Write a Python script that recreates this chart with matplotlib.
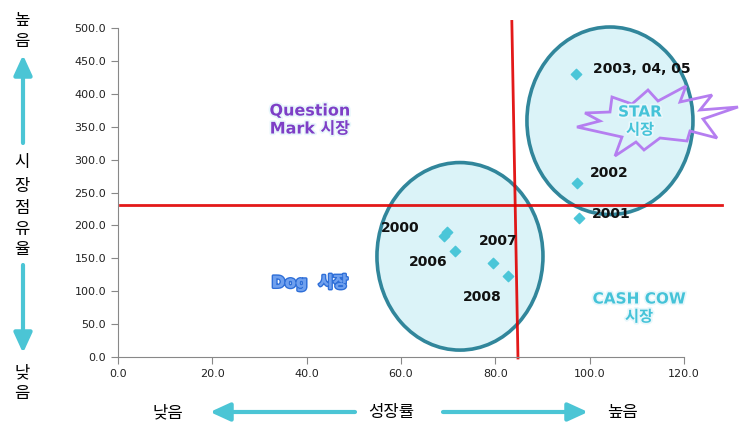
import numpy as np
import matplotlib.pyplot as plt
from matplotlib.patches import Ellipse, Polygon
import matplotlib.patheffects as pe

# market growth (x) vs market share (y)
growth = [69.1, 69.7, 97.7, 97.3, 97.1, 71.4, 79.5, 82.7]
share = [184.0, 190.0, 211.0, 264.0, 430.0, 160.5, 142.5, 123.0]

# point labels: text, x, y (data coords of label)
labels = ['2000', '2001', '2002', '2003, 04, 05', '2006', '2007', '2008']
label_x = [55.8, 100.5, 100.1, 100.7, 61.7, 76.5, 73.1]
label_y = [196, 217, 279, 438, 144, 177, 91]

xticks = [0, 20, 40, 60, 80, 100, 120]
yticks = [0, 50, 100, 150, 200, 250, 300, 350, 400, 450, 500]

plt.rcParams['font.family'] = ['DejaVu Sans', 'Noto Sans CJK KR']

fig = plt.figure(figsize=(7.4, 4.33), dpi=100)
W, H = 740, 433
ax = fig.add_axes([118 / W, 1 - 357 / H, (684 - 118) / W, (357 - 28) / H])
ax.set_xlim(0, 120)
ax.set_ylim(0, 500)
ax.set_xticks(xticks)
ax.set_yticks(yticks)
ax.set_xticklabels(['%.1f' % v for v in xticks])
ax.set_yticklabels(['%.1f' % v for v in yticks])
ax.tick_params(labelsize=8, colors='#222222', length=5, color='#888888')
for s in ['top', 'right']:
    ax.spines[s].set_visible(False)
for s in ['left', 'bottom']:
    ax.spines[s].set_color('#888888')

# ellipses around the groups
for cx, cy in [(72.5, 153), (104.3, 359)]:
    e = Ellipse((cx, cy), 35.2, 285, facecolor='#dbf3f8', edgecolor='#31869b',
                lw=2.6, zorder=1, clip_on=False)
    ax.add_patch(e)

# red quadrant lines
ax.plot([0.4, 128], [230.3, 230.3], color='#e00000', lw=2, zorder=2, clip_on=False, alpha=0.9)
ax.plot([83.5, 84.8], [510, -1.5], color='#e00000', lw=2, zorder=2, clip_on=False, alpha=0.9)

ax.scatter(growth, share, marker='D', s=28, color='#4bc6d8', zorder=4)

for t, lx, ly in zip(labels, label_x, label_y):
    ax.text(lx, ly, t, fontsize=10, fontweight='bold', color='#111111',
            ha='left', va='center', zorder=5)

# starburst outline (figure pixels)
star = np.array([(585, 113), (610, 112), (612, 97), (632, 104), (648, 90), (658, 101),
                 (686, 86), (680, 102), (712, 95), (700, 110), (738, 107), (703, 119),
                 (717, 138), (690, 131), (687, 141), (660, 138), (644, 150), (636, 142),
                 (615, 156), (622, 137), (577, 127), (600, 121)])
fig.patches.append(Polygon(np.column_stack([star[:, 0] / W, 1 - star[:, 1] / H]),
                           closed=True, fill=False, edgecolor='#b57ef0', lw=2,
                           transform=fig.transFigure, zorder=3))

glow = [pe.withStroke(linewidth=2.5, foreground='#e8f7fb')]
fig.text(310 / W, 1 - 120 / H, 'Question\nMark 시장', ha='center', va='center',
         fontsize=11.5, fontweight='bold', color='#7e3fc6', linespacing=1.25,
         path_effects=glow)
fig.text(310 / W, 1 - 282 / H, 'Dog  시장', ha='center', va='center',
         fontsize=11.5, fontweight='bold', color='#6fa0ee',
         path_effects=[pe.withStroke(linewidth=2.2, foreground='#2f6fd8'), pe.Normal()])
fig.text(639 / W, 1 - 308 / H, 'CASH COW\n시장', ha='center', va='center',
         fontsize=11, fontweight='bold', color='#45c3d8', linespacing=1.25,
         path_effects=glow)
fig.text(640 / W, 1 - 121 / H, 'STAR\n시장', ha='center', va='center',
         fontsize=11, fontweight='bold', color='#45c3d8', linespacing=1.25,
         path_effects=glow)

# side captions, stacked characters
for ch, y in zip('높음', [20, 41]):
    fig.text(22 / W, 1 - y / H, ch, ha='center', va='center', fontsize=12)
for ch, y in zip('시장점유율', [162, 186, 208, 229, 249]):
    fig.text(22 / W, 1 - y / H, ch, ha='center', va='center', fontsize=12)
for ch, y in zip('낮음', [372, 393]):
    fig.text(22 / W, 1 - y / H, ch, ha='center', va='center', fontsize=12)

arrow_col = '#4bc5d5'

def fig_arrow(x0, y0, x1, y1):
    # arrow between two figure pixel positions (y measured from top)
    ax.annotate('', xy=(x1 / W, 1 - y1 / H), xytext=(x0 / W, 1 - y0 / H),
                xycoords='figure fraction', textcoords='figure fraction',
                arrowprops=dict(arrowstyle='-|>,head_length=1.2,head_width=0.55',
                                color=arrow_col, lw=3, shrinkA=0, shrinkB=0))

fig_arrow(23, 143, 23, 55)
fig_arrow(23, 265, 23, 353)
fig_arrow(355, 412, 210, 412)
fig_arrow(443, 412, 588, 412)

fig.text(168 / W, 1 - 412 / H, '낮음', ha='center', va='center', fontsize=12)
fig.text(391 / W, 1 - 412 / H, '성장률', ha='center', va='center', fontsize=12)
fig.text(622 / W, 1 - 412 / H, '높음', ha='center', va='center', fontsize=12)

fig.savefig('out.png', dpi=100)
